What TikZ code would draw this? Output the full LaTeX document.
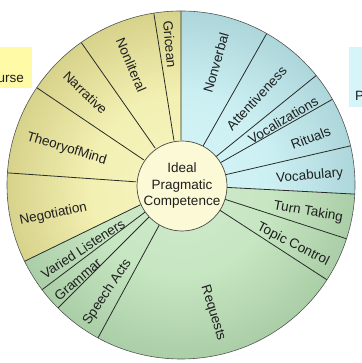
\documentclass[tikz,border=0pt]{standalone}
\usepackage{fontspec}
\setmainfont{Liberation Sans}
\usepackage{xcolor}
\usetikzlibrary{positioning}

\definecolor{hubfill}{RGB}{252,249,214}
\definecolor{spokeline}{RGB}{40,44,40}
\definecolor{labeltext}{RGB}{30,30,30}
\definecolor{discoursetag}{RGB}{254,250,165}
\definecolor{pragtag}{RGB}{214,245,250}

% radial fills, 50bp = outer rim
\pgfdeclareradialshading{discourseshade}{\pgfpoint{0bp}{0bp}}{%
  rgb(0bp)=(0.97,0.96,0.76); rgb(13bp)=(0.95,0.94,0.70);
  rgb(30bp)=(0.80,0.78,0.48); rgb(50bp)=(0.58,0.56,0.30)}
\pgfdeclareradialshading{nonverbalshade}{\pgfpoint{0bp}{0bp}}{%
  rgb(0bp)=(0.84,0.96,0.97); rgb(13bp)=(0.80,0.94,0.95);
  rgb(30bp)=(0.63,0.80,0.82); rgb(50bp)=(0.42,0.55,0.56)}
\pgfdeclareradialshading{speechshade}{\pgfpoint{0bp}{0bp}}{%
  rgb(0bp)=(0.82,0.92,0.80); rgb(13bp)=(0.78,0.90,0.76);
  rgb(30bp)=(0.62,0.77,0.61); rgb(50bp)=(0.40,0.54,0.42)}

\def\Rout{174pt}
\def\Rin{45pt}

% one coloured wedge of the wheel: start angle, end angle, shading
\newcommand{\wedgefill}[3]{%
  \begin{scope}
    \clip (0,0) -- (#1:\Rout) arc[start angle=#1, end angle=#2, radius=\Rout] -- cycle;
    \shade[shading=#3] (0,0) circle (\Rout);
  \end{scope}}

\tikzset{
  seglabel/.style={
    font=\fontsize{13.5}{15}\selectfont, text=labeltext, inner sep=0pt
  },
  spoke/.style={
    draw=spokeline, line width=0.8pt
  },
  rim/.style={
    draw=spokeline!80, line width=0.6pt
  },
  hub/.style={
    circle, draw=spokeline!85, line width=0.7pt, fill=hubfill,
    minimum size=90pt, inner sep=0pt, align=center, text=labeltext,
    font=\fontsize{13.5}{16.5}\selectfont
  },
  tagbox/.style={
    rectangle, inner sep=0pt, anchor=south west
  },
}

\begin{document}
\begin{tikzpicture}[x=1pt, y=1pt]
  \useasboundingbox (0,0) rectangle (361,363);

  % Side tags, cut off by the page edge
  \node[tagbox, fill=discoursetag, minimum width=32pt, minimum height=41pt]
    (discourse) at (0,275) {};
  \node[seglabel, anchor=east] (discoursetext) at (24,284) {urse};
  \node[tagbox, fill=pragtag, minimum width=14pt, minimum height=60pt]
    (prag) at (349,256) {};
  \node[seglabel, anchor=west] (pragtext) at (355,267) {P};

  \begin{scope}[shift={(181,178)}]

    % Three coloured groups
    \wedgefill{-3}{90}{nonverbalshade}
    \wedgefill{90}{206}{discourseshade}
    \wedgefill{206}{357}{speechshade}

    % Segment boundaries
    \draw[spoke] (-3:\Rin) -- (-3:\Rout)   (13:\Rin) -- (13:\Rout)
                 (29.5:\Rin) -- (29.5:\Rout) (39:\Rin) -- (39:\Rout)
                 (60.5:\Rin) -- (60.5:\Rout) (90:\Rin) -- (90:\Rout);
    \draw[spoke] (99:\Rin) -- (99:\Rout)   (125:\Rin) -- (125:\Rout)
                 (146:\Rin) -- (146:\Rout) (176:\Rin) -- (176:\Rout)
                 (206:\Rin) -- (206:\Rout);
    \draw[spoke] (217:\Rin) -- (217:\Rout) (225:\Rin) -- (225:\Rout)
                 (241.5:\Rin) -- (241.5:\Rout) (327:\Rin) -- (327:\Rout)
                 (342:\Rin) -- (342:\Rout);
    \draw[rim] (0,0) circle (\Rout);

    % Nonverbal group
    \node[seglabel, rotate=5]  (vocabulary)    at (4:129)    {Vocabulary};
    \node[seglabel, rotate=21] (rituals)       at (20:138)   {Rituals};
    \node[seglabel, rotate=31] (vocalizations) at (32.5:121) {Vocalizations};
    \node[seglabel, rotate=47] (attentiveness) at (49:115)   {Attentiveness};
    \node[seglabel, rotate=74] (nonverbal)     at (74:127)   {Nonverbal};

    % Discourse group
    \node[seglabel, rotate=-85] (gricean)     at (94.5:141)  {Gricean};
    \node[seglabel, rotate=-67] (nonliteral)  at (112.5:130) {Nonliteral};
    \node[seglabel, rotate=-44] (narrative)   at (136:133)   {Narrative};
    \node[seglabel, rotate=-17] (theorymind)  at (162.5:120) {TheoryofMind};
    \node[seglabel, rotate=12]  (negotiation) at (193:131)   {Negotiation};

    % Speech group
    \node[seglabel, rotate=33]  (listeners)    at (213:117)   {Varied Listeners};
    \node[seglabel, rotate=41]  (grammar)      at (222.5:140) {Grammar};
    \node[seglabel, rotate=56]  (speechacts)   at (235.5:130) {Speech Acts};
    \node[seglabel, rotate=-73] (requests)     at (284:132)   {Requests};
    \node[seglabel, rotate=-27] (topiccontrol) at (332:127)   {Topic Control};
    \node[seglabel, rotate=-10] (turntaking)   at (348:130)   {Turn Taking};

    % Centre
    \node[hub] (core) at (1,-1) {Ideal\\Pragmatic\\Competence};

  \end{scope}
\end{tikzpicture}
\end{document}
